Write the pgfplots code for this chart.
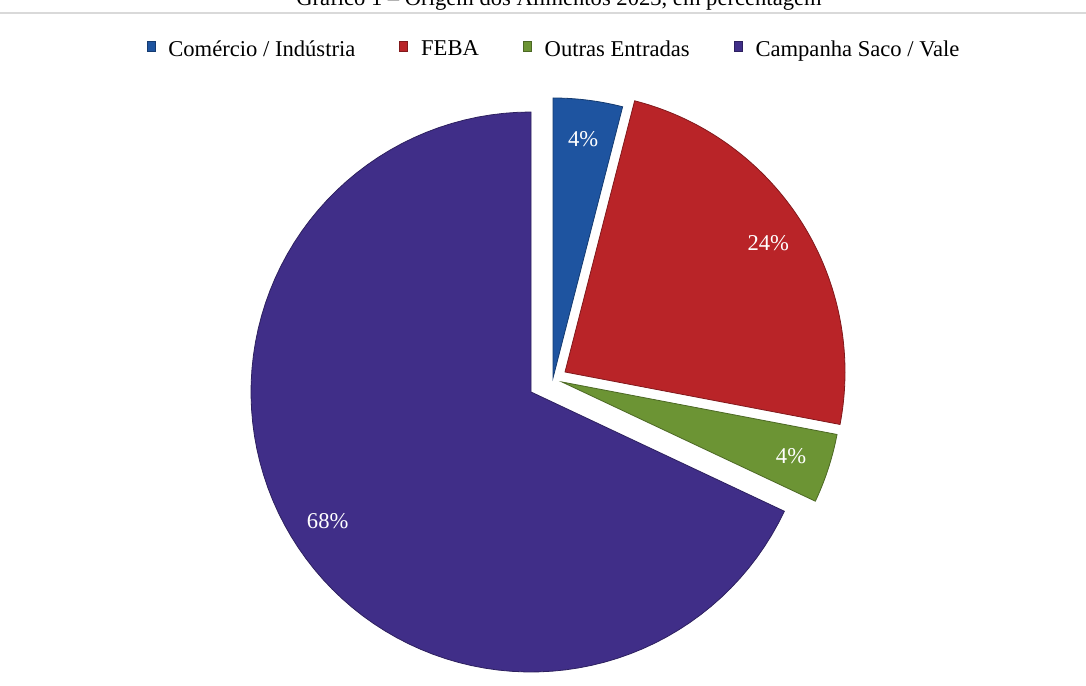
\documentclass[border=0pt]{standalone}
\usepackage{pgfplots}
\usepackage{pgfplotstable}
\pgfplotsset{compat=1.18}
\usepackage{fontspec}
\setmainfont{Liberation Serif}

\definecolor{c0}{RGB}{30,84,160}
\definecolor{c1}{RGB}{185,36,40}
\definecolor{c2}{RGB}{108,148,52}
\definecolor{c3}{RGB}{64,46,136}

% share in %, explode offset of each slice (px, right / up)
\pgfplotstableread{
value dx dy
4     22 14
24    34 20
4     31 10
68    0  0
}\piedata

\begin{document}
\begin{tikzpicture}[pct/.style={text=white, font=\fontsize{11.3}{13}\selectfont}]
\begin{axis}[
    name=ax,
    scale only axis,
    width=543pt, height=342.5pt,
    xmin=0, xmax=1086, ymin=0, ymax=685,
    hide axis, clip=false,
    legend columns=4,
    legend style={at={(axis cs:555,635)}, anchor=center, draw=none, fill=none,
        font=\fontsize{11.3}{13}\selectfont,
        /tikz/every even column/.append style={column sep=20pt}},
    legend image code/.code={\fill[#1] (0pt,-0.5pt) rectangle (4pt,4.5pt);
        \path (8.5pt,0pt);},
    ]
\pgfmathsetmacro\cum{90}
\pgfplotsforeachungrouped \i in {0,...,3}{
    \pgfplotstablegetelem{\i}{value}\of\piedata \let\val\pgfplotsretval
    \pgfplotstablegetelem{\i}{dx}\of\piedata \let\ox\pgfplotsretval
    \pgfplotstablegetelem{\i}{dy}\of\piedata \let\oy\pgfplotsretval
    \pgfmathsetmacro\a{\cum}
    \pgfmathsetmacro\b{\cum-3.6*\val}
    \pgfmathsetmacro\vx{531+\ox}
    \pgfmathsetmacro\vy{293+\oy}
    \pgfmathsetmacro\mid{(\a+\b)/2}
    \pgfmathsetmacro\lx{\vx+0.86*280*cos(\mid)}
    \pgfmathsetmacro\ly{\vy+0.86*280*sin(\mid)}
    \edef\doslice{%
        \noexpand\addplot[fill=c\i, draw=c\i!70!black, line width=0.4pt,
            domain=\b:\a, samples=90, variable=\noexpand\t]
            ({\vx+280*cos(\noexpand\t)}, {\vy+280*sin(\noexpand\t)})
            -- (axis cs:\vx,\vy) -- cycle;
        \noexpand\node[pct] at (axis cs:\lx,\ly) {\val\noexpand\%};}
    \doslice
    \let\cum\b
}
\legend{Comércio / Indústria, FEBA, Outras Entradas, Campanha Saco / Vale}
\draw[black!15, line width=1pt] (axis cs:0,672) -- (axis cs:1086,672);
\node[anchor=base, font=\fontsize{11.3}{13}\selectfont] at (axis cs:559,679)
    {Gráfico 1 – Origem dos Alimentos 2023, em percentagem};
\end{axis}
\pgfresetboundingbox
\path[use as bounding box] (ax.south west) rectangle (ax.north east);
\end{tikzpicture}
\end{document}
